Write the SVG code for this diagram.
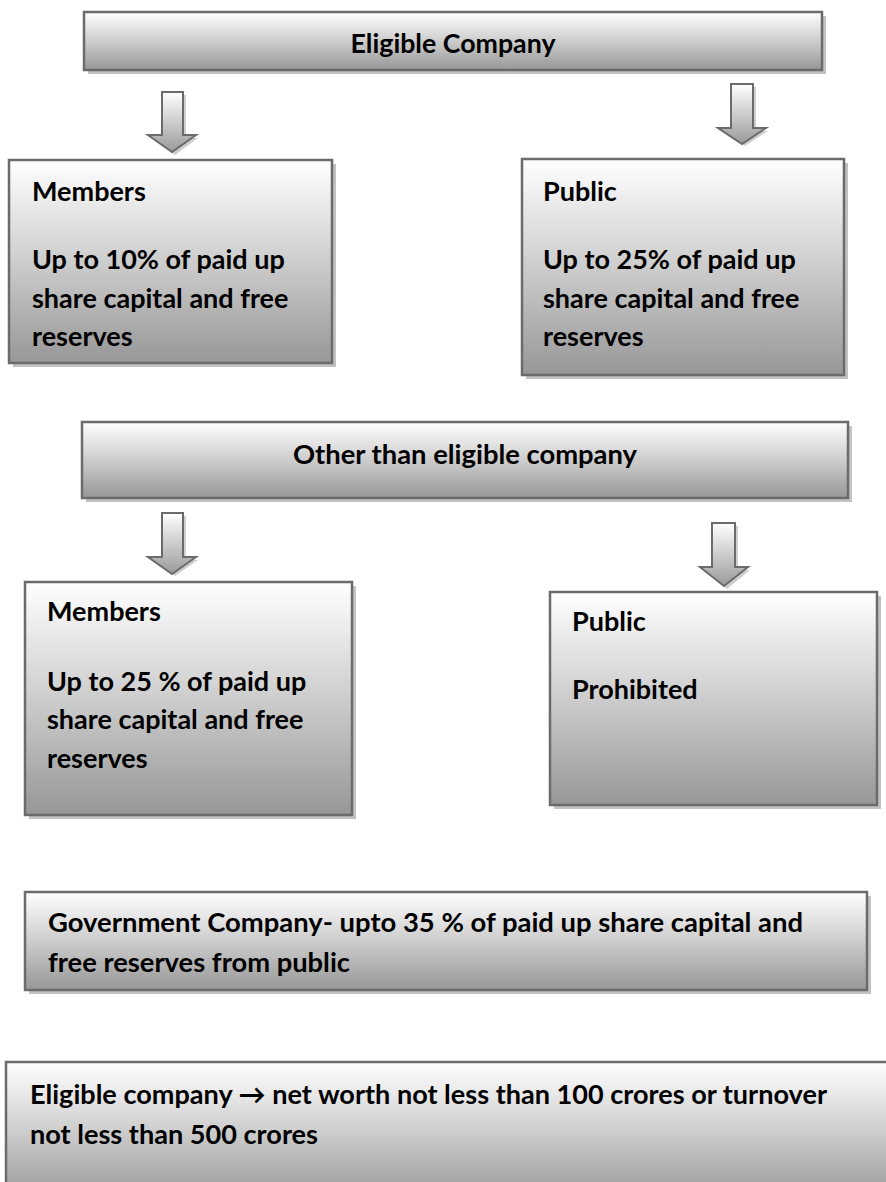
<svg xmlns="http://www.w3.org/2000/svg" width="886" height="1182" viewBox="0 0 886 1182">
<defs>
<linearGradient id="g" x1="0" y1="0" x2="0" y2="1">
<stop offset="0" stop-color="#ffffff"/>
<stop offset="0.45" stop-color="#d2d2d2"/>
<stop offset="1" stop-color="#979797"/>
</linearGradient>
<linearGradient id="ga" x1="0" y1="0" x2="0" y2="1">
<stop offset="0" stop-color="#ffffff"/>
<stop offset="1" stop-color="#9a9a9a"/>
</linearGradient>
</defs>
<style>
.box{fill:url(#g);stroke:#6b6b6b;stroke-width:2.5}
.sh{fill:#c2c2c2}
.arr{fill:url(#ga);stroke:#6b6b6b;stroke-width:2;stroke-linejoin:miter}
.ash{fill:#cfcfcf}
.t{font-family:Lato,"Liberation Sans","DejaVu Sans",sans-serif;font-weight:bold;font-size:27px;fill:#000}
.c{text-anchor:middle}
</style>
<rect width="886" height="1182" fill="#fff"/>
<g id="connectors">
<path class="ash" d="M165 95 H186 V138 H198 L175 155 L152 138 H165 Z"/>
<path class="arr" d="M162 92 H183 V135 H196 L172 152 L148 135 H162 Z"/>
<path class="ash" d="M734 87 H756 V131 H768 L745 146 L722 131 H734 Z"/>
<path class="arr" d="M731 84 H753 V128 H766 L742 144 L718 128 H731 Z"/>
<path class="ash" d="M165 516 H186 V560 H198 L175 576 L152 560 H165 Z"/>
<path class="arr" d="M162 513 H183 V557 H196 L172 574 L148 557 H162 Z"/>
<path class="ash" d="M715 526 H738 V570 H750 L727 589 L704 570 H715 Z"/>
<path class="arr" d="M712 523 H735 V567 H748 L724 586 L700 567 H712 Z"/>
</g>
<g id="eligible-company">
<rect class="sh" x="88" y="16" width="738" height="58"/>
<rect class="box" x="84" y="12" width="738" height="58"/>
<text class="t c" x="453" y="53" textLength="205" lengthAdjust="spacingAndGlyphs">Eligible Company</text>
</g>
<g id="members-1">
<rect class="sh" x="13" y="164" width="323" height="203"/>
<rect class="box" x="9" y="160" width="323" height="203"/>
<text class="t" x="32" y="201">Members</text>
<text class="t" x="32" y="269">Up to 10% of paid up</text>
<text class="t" x="32" y="308">share capital and free</text>
<text class="t" x="32" y="346">reserves</text>
</g>
<g id="public-1">
<rect class="sh" x="526" y="163" width="322" height="216"/>
<rect class="box" x="522" y="159" width="322" height="216"/>
<text class="t" x="543" y="201">Public</text>
<text class="t" x="543" y="269">Up to 25% of paid up</text>
<text class="t" x="543" y="308">share capital and free</text>
<text class="t" x="543" y="346">reserves</text>
</g>
<g id="other-company">
<rect class="sh" x="86" y="426" width="766" height="76"/>
<rect class="box" x="82" y="422" width="766" height="76"/>
<text class="t c" x="465" y="464" textLength="344" lengthAdjust="spacingAndGlyphs">Other than eligible company</text>
</g>
<g id="members-2">
<rect class="sh" x="29" y="586" width="327" height="233"/>
<rect class="box" x="25" y="582" width="327" height="233"/>
<text class="t" x="47" y="621">Members</text>
<text class="t" x="47" y="691">Up to 25 % of paid up</text>
<text class="t" x="47" y="729">share capital and free</text>
<text class="t" x="47" y="768">reserves</text>
</g>
<g id="public-2">
<rect class="sh" x="554" y="596" width="327" height="213"/>
<rect class="box" x="550" y="592" width="327" height="213"/>
<text class="t" x="572" y="631">Public</text>
<text class="t" x="572" y="699">Prohibited</text>
</g>
<g id="government-company">
<rect class="sh" x="29" y="896" width="842" height="98"/>
<rect class="box" x="25" y="892" width="842" height="98"/>
<text class="t" x="48" y="932" textLength="755" lengthAdjust="spacingAndGlyphs">Government Company- upto 35 % of paid up share capital and</text>
<text class="t" x="48" y="972" textLength="302" lengthAdjust="spacingAndGlyphs">free reserves from public</text>
</g>
<g id="eligible-definition">
<rect class="box" x="6" y="1062" width="900" height="140"/>
<text class="t" x="30" y="1104" textLength="797" lengthAdjust="spacingAndGlyphs">Eligible company → net worth not less than 100 crores or turnover</text>
<text class="t" x="30" y="1144" textLength="288" lengthAdjust="spacingAndGlyphs">not less than 500 crores</text>
</g>
</svg>
